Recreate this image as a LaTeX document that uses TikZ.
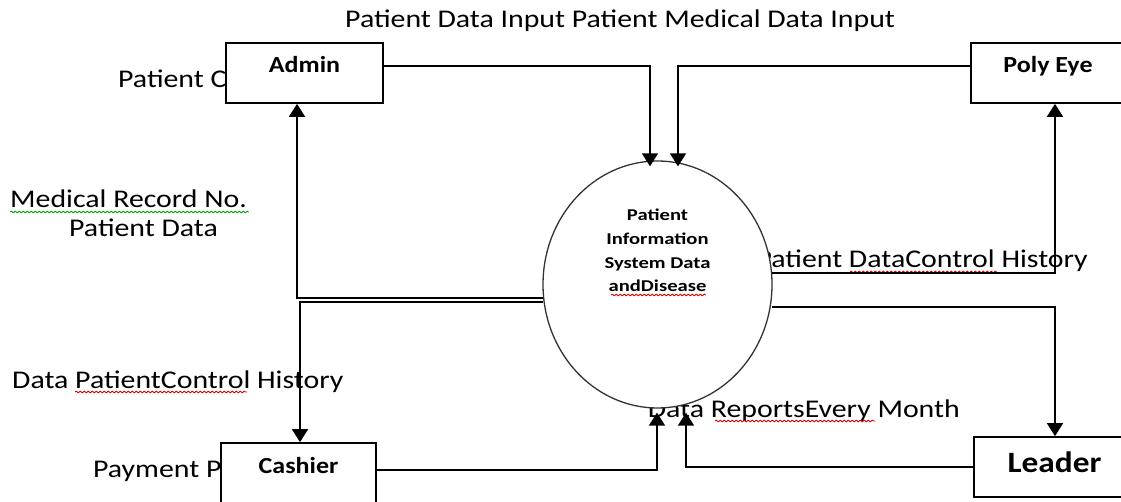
\documentclass[tikz,border=0pt]{standalone}
\usepackage{fontspec}
\setmainfont{Carlito}
\newfontfamily\labfont[FakeStretch=1.17]{Carlito}
\newfontfamily\boxfont[FakeStretch=1.13]{Carlito}
\newfontfamily\procfont[FakeStretch=1.25]{Carlito}
\usetikzlibrary{arrows.meta,shapes.geometric,calc,decorations.pathmorphing}

\begin{document}
\begin{tikzpicture}[x=1pt,y=-1pt,
  lab/.style={anchor=base west, inner sep=0, text=black,
    font=\labfont\fontsize{25.5}{30}\selectfont},
  entity/.style={draw=black, line width=1.7pt, fill=white, inner sep=0,
    font=\boxfont\bfseries\fontsize{23}{27}\selectfont,
    text height=8pt, text depth=8pt},
  flow/.style={draw=black, line width=1.7pt, -{Triangle[length=13pt,width=16pt]}},
  squig/.style={decorate, decoration={snake, amplitude=0.9pt, segment length=4pt},
    line width=0.8pt},
]
\useasboundingbox (0,0) rectangle (1121,502);

% flow labels
\node[lab] (ltop) at (345,28) {Patient Data Input Patient Medical Data Input};
\node[lab] (lpc) at (118,88) {Patient C};
\node[lab] (lmr) at (10,208) {Medical Record No.};
\node[lab] (lpd) at (69,237) {Patient Data};
\node[lab] (ldpc) at (12,388) {Data PatientControl History};
\node[lab] (lpay) at (93,477) {Payment P};
\node[lab, anchor=base east] (lpdc) at (1088,268) {Patient DataControl History};
\node[lab, anchor=base east] (lrep) at (960,417) {Data ReportsEvery Month};

% spelling marks under words
\draw[squig, green!60!black] (10,212) -- (249,212);
\draw[squig, red!85!black] (75,392) -- (247,392);
\draw[squig, red!85!black] (850,272) -- (997,272);
\draw[squig, red!85!black] (715,421) -- (875,421);

% central process
\node[ellipse, draw=black!80, line width=1.3pt, fill=white,
      minimum width=229, minimum height=247, inner sep=0] (sys) at (657.5,284.5) {};
\node[font=\procfont\bfseries\fontsize{16.5}{23.7}\selectfont, align=center,
      anchor=base, inner sep=0] (systxt) at (657.5,292)
      {Patient\\Information\\System Data\\andDisease};
\draw[squig, red!85!black] (611,295) -- (706,295);

% external entities
\node[entity, minimum width=157, minimum height=60] (admin) at (304.5,73) {Admin};
\node[entity, minimum width=154, minimum height=60] (poly) at (1048,73) {Poly Eye};
\node[entity, minimum width=155, minimum height=72, text height=8pt, text depth=19.2pt]
      (cashier) at (298.5,479) {Cashier};
\node[entity, minimum width=161, minimum height=60, text height=15pt, text depth=5pt,
      font=\boxfont\bfseries\fontsize{29.5}{33}\selectfont] (leader) at (1054.5,467) {Leader};

% data flows
\draw[flow] ($(admin.east)+(0,-7)$) -| ($(sys.north)+(-7.5,6)$);
\draw[flow] ($(poly.west)+(0,-7)$) -| ($(sys.north)+(20.5,6)$);
\draw[flow] ($(sys.west)+(0.5,13.5)$) -| ($(admin.south)+(-7.5,0)$);
\draw[flow] ($(sys.west)+(0.8,17.5)$) -| ($(cashier.north)+(1.5,0)$);
\draw[flow] ($(sys.east)+(-0.5,-11.5)$) -| ($(poly.south)+(7,0)$);
\draw[flow] ($(sys.east)+(-0.5,22.5)$) -| ($(leader.north)+(0.5,0)$);
\draw[flow] ($(cashier.east)+(0,-9)$) -| ($(sys.south)+(-0.5,4)$);
\draw[flow] (leader.west) -| ($(sys.south)+(28.5,4)$);
\end{tikzpicture}
\end{document}
